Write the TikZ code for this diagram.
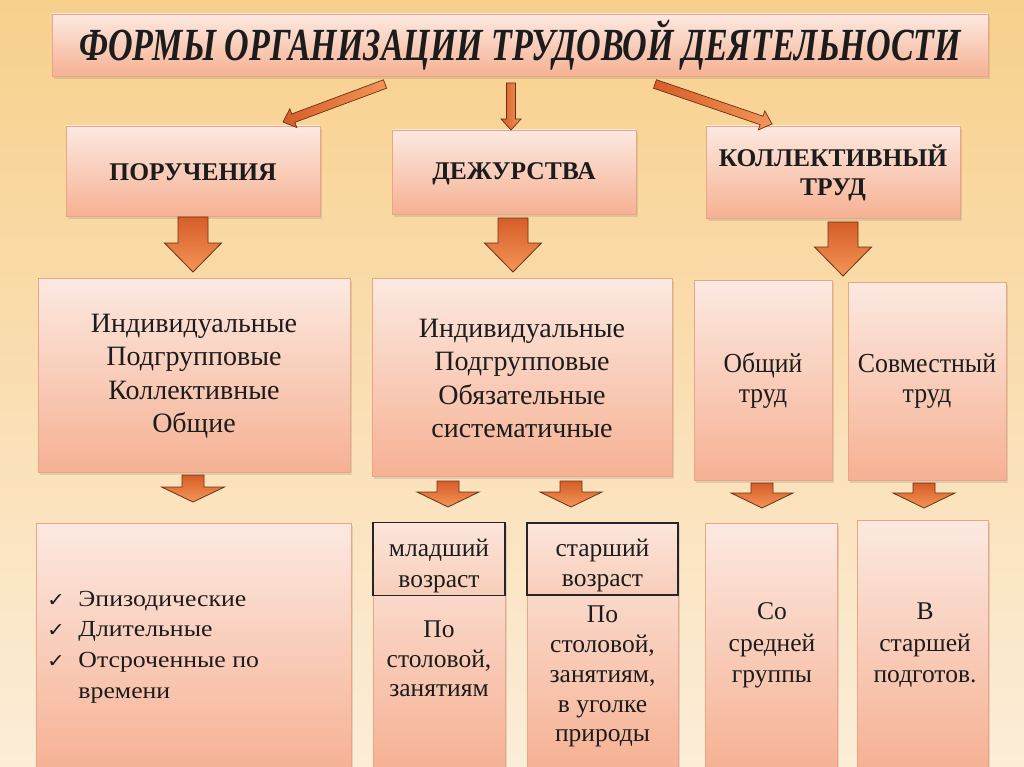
\documentclass[tikz,border=0pt]{standalone}
\usepackage{fontspec}
\usepackage{graphicx}
\setmainfont{Liberation Serif}
\newfontfamily\symfont{DejaVu Sans}
\usetikzlibrary{shadows,calc}
\definecolor{bgtop}{HTML}{F8D08C}
\definecolor{bgbot}{HTML}{FCEDD8}
\definecolor{boxtop}{HTML}{FCE9E1}
\definecolor{boxbot}{HTML}{F6B193}
\definecolor{boxline}{HTML}{E9A585}
\definecolor{hdtop}{HTML}{FCE6DC}
\definecolor{hdbot}{HTML}{F8CDB8}
\definecolor{arrtop}{HTML}{D65E28}
\definecolor{arrbot}{HTML}{F39558}
\definecolor{arrline}{HTML}{6A3016}
\definecolor{txt}{HTML}{1C1C1C}
\newcommand{\nls}{\lineskiplimit -50pt\relax}
% block arrow from tail #1 to tip #2: half shaft #3, half head #4, head length #5, style #6
\newcommand{\blockarr}[6]{%
  \coordinate (bah) at ($(#2)!#5!(#1)$);
  \path[#6] ($(#1)!#3!90:(#2)$) -- ($(bah)!#3!90:(#2)$) -- ($(bah)!#4!90:(#2)$) -- (#2)
    -- ($(bah)!#4!-90:(#2)$) -- ($(bah)!#3!-90:(#2)$) -- ($(#1)!#3!-90:(#2)$) -- cycle;}
\newcommand{\ck}{{\symfont\fontsize{19}{19}\selectfont ✓}}
\begin{document}
\begin{tikzpicture}[x=1pt,y=-1pt,
  box/.style={draw=boxline, line width=0.6pt, top color=boxtop, bottom color=boxbot,
    drop shadow={shadow xshift=2pt, shadow yshift=-3pt, opacity=0.22},
    inner sep=0pt, align=center, text=txt},
  hdbox/.style={draw=black!85, line width=1.4pt, top color=hdtop, bottom color=hdbot,
    inner sep=0pt},
  lbl/.style={inner sep=0pt, align=center, text=txt},
  headfont/.style={font=\fontsize{25.5}{29}\selectfont\bfseries\nls},
  arr/.style={draw=arrline, line width=0.8pt, line join=miter, top color=arrtop, bottom color=arrbot},
  thinarr/.style={draw=arrline, line width=0.7pt, line join=miter, left color=arrtop, right color=arrbot}
]
\useasboundingbox (0,0) rectangle (1024,767);
\fill[top color=bgtop, bottom color=bgbot] (0,0) rectangle (1024,767);

% title
\node[box, minimum width=936pt, minimum height=62pt] (title) at (520,45)
  {\resizebox{882pt}{\height}{\fontsize{46}{46}\selectfont\bfseries\itshape ФОРМЫ ОРГАНИЗАЦИИ ТРУДОВОЙ ДЕЯТЕЛЬНОСТИ}};

% second row
\node[box, minimum width=254pt, minimum height=90pt] (por) at (193,171) {};
\node[box, minimum width=244pt, minimum height=84pt] (dezh) at (514,172) {};
\node[box, minimum width=254pt, minimum height=92pt] (koll) at (833,172) {};
\node[lbl, headfont] (porT) at (193,172.5) {ПОРУЧЕНИЯ};
\node[lbl, headfont] (dezhT) at (514,174) {ДЕЖУРСТВА};
\node[lbl, headfont] (kollT) at (833,173) {КОЛЛЕКТИВНЫЙ\\ТРУД};

% thin arrows from the title
\coordinate (t1a) at (385,84);  \coordinate (t1b) at (283,122);
\coordinate (t2a) at (511,83);  \coordinate (t2b) at (511,130);
\coordinate (t3a) at (655,84);  \coordinate (t3b) at (772,124);
\blockarr{t1a}{t1b}{4.5pt}{10pt}{11pt}{thinarr}
\blockarr{t2a}{t2b}{4.5pt}{10pt}{11pt}{thinarr}
\blockarr{t3a}{t3b}{4.5pt}{10pt}{11pt}{thinarr}

% big arrows
\coordinate (b1a) at (193,217); \coordinate (b1b) at (193,272);
\coordinate (b2a) at (513,218); \coordinate (b2b) at (513,272);
\coordinate (b3a) at (843,222); \coordinate (b3b) at (843,276);
\blockarr{b1a}{b1b}{15pt}{28.5pt}{29pt}{arr}
\blockarr{b2a}{b2b}{15pt}{28.5pt}{29pt}{arr}
\blockarr{b3a}{b3b}{15pt}{28.5pt}{29pt}{arr}

% third row
\node[box, minimum width=312pt, minimum height=194pt] (indA) at (194,375) {};
\node[box, minimum width=300pt, minimum height=198pt] (indB) at (522,377) {};
\node[box, minimum width=138pt, minimum height=200pt] (obsh) at (763,380) {};
\node[box, minimum width=158pt, minimum height=198pt] (sovm) at (927,381) {};
\node[lbl, font=\fontsize{28}{33.5}\selectfont\nls] (indAT) at (194,376.3)
  {Индивидуальные\\Подгрупповые\\Коллективные\\Общие};
\node[lbl, font=\fontsize{28}{33.5}\selectfont\nls] (indBT) at (522,378.5)
  {Индивидуальные\\Подгрупповые\\Обязательные\\систематичные};
\node[lbl, font=\fontsize{27.5}{30}\selectfont\nls, xscale=0.93] (obshT) at (763,381)
  {Общий\\труд};
\node[lbl, font=\fontsize{27.5}{30}\selectfont\nls, xscale=0.94] (sovmT) at (927,381)
  {Совместный\\труд};

% small arrows
\coordinate (s1a) at (193,475); \coordinate (s1b) at (193,502);
\coordinate (s2a) at (448,481); \coordinate (s2b) at (448,507);
\coordinate (s3a) at (571,481); \coordinate (s3b) at (571,507);
\coordinate (s4a) at (762,483); \coordinate (s4b) at (762,508);
\coordinate (s5a) at (924,483); \coordinate (s5b) at (924,508);
\blockarr{s1a}{s1b}{11pt}{31.5pt}{15pt}{arr}
\blockarr{s2a}{s2b}{11pt}{31pt}{15pt}{arr}
\blockarr{s3a}{s3b}{11pt}{31pt}{15pt}{arr}
\blockarr{s4a}{s4b}{11pt}{31pt}{15pt}{arr}
\blockarr{s5a}{s5b}{11pt}{31pt}{15pt}{arr}

% fourth row
\node[box, minimum width=315pt, minimum height=250pt] (epis) at (193.5,648) {};
\node[anchor=west, lbl, font=\fontsize{23}{30.7}\selectfont] (list) at (47,646)
  {\scalebox{1.12}[1]{\begin{tabular}{@{}l@{\hspace{12pt}}l@{}}
   \ck & Эпизодические\\
   \ck & Длительные\\
   \ck & Отсроченные по\\
    & времени
   \end{tabular}}};

\node[box, minimum width=132pt, minimum height=248pt] (ml) at (439,646) {};
\node[hdbox, minimum width=132pt, minimum height=73pt] (mlh) at (439,559) {};
\node[lbl, font=\fontsize{25.5}{31}\selectfont\nls] (mlhT) at (439,566)
  {младший\\возраст};
\node[lbl, font=\fontsize{25.5}{29.5}\selectfont\nls] (mlT) at (439,659)
  {По\\столовой,\\занятиям};

\node[box, minimum width=151pt, minimum height=248pt] (st) at (602.5,646) {};
\node[hdbox, minimum width=151pt, minimum height=72pt] (sth) at (602.5,559) {};
\node[lbl, font=\fontsize{25.5}{30}\selectfont\nls] (sthT) at (602.5,565.3)
  {старший\\возраст};
\node[lbl, font=\fontsize{25.5}{29.75}\selectfont\nls] (stT) at (602.5,676.8)
  {По\\столовой,\\занятиям,\\в уголке\\природы};

\node[box, minimum width=132pt, minimum height=247pt] (so) at (771,646.5) {};
\node[lbl, font=\fontsize{25.5}{31.5}\selectfont\nls] (soT) at (772,645.6)
  {Со\\средней\\группы};
\node[box, minimum width=131pt, minimum height=250pt] (vst) at (922.5,645) {};
\node[lbl, font=\fontsize{25.5}{31.5}\selectfont\nls] (vstT) at (925,645.6)
  {В\\старшей\\подготов.};
\end{tikzpicture}
\end{document}
